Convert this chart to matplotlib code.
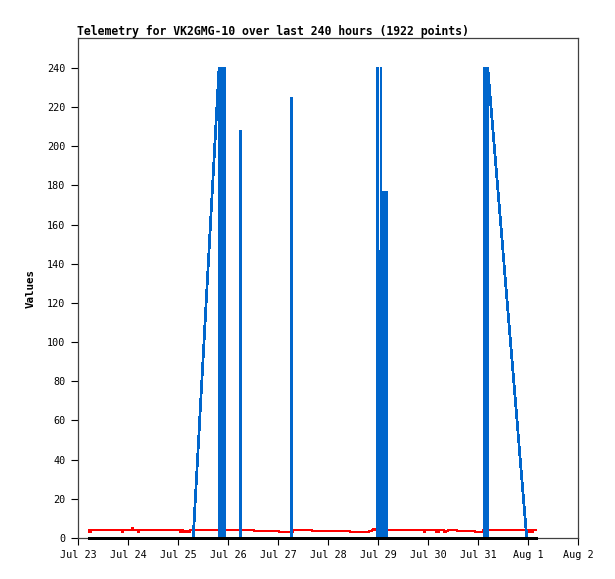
import matplotlib
matplotlib.use("Agg")
import matplotlib.pyplot as plt

# ---- data (hours since Jul 23 00:00) ----
tick_hours = [0, 24, 48, 72, 96, 120, 144, 168, 192, 216, 240]
tick_labels = ["Jul 23", "Jul 24", "Jul 25", "Jul 26", "Jul 27", "Jul 28",
               "Jul 29", "Jul 30", "Jul 31", "Aug 1", "Aug 2"]
y_ticks = [0, 20, 40, 60, 80, 100, 120, 140, 160, 180, 200, 220, 240]

red_hours = [4.8, 5.5, 6.0, 20.9, 21.4, 26.1, 26.6, 28.9, 29.4, 48.9, 49.4,
             50.3, 50.8, 51.6, 52.4, 53.4, 53.9, 84.5, 96.5, 103.1, 112.3,
             130.6, 139.7, 141.2, 141.7, 142.4, 165.9, 166.4, 171.6, 172.1,
             173.0, 173.5, 175.8, 176.8, 177.6, 181.8, 190.6, 194.4, 216.6,
             217.1, 218.0, 218.5, 220.3]
red_values = [4, 3, 4, 3, 4, 5, 4, 3, 4, 3, 4,
              3, 3.5, 3, 3.5, 3, 4, 3.5, 3, 4, 3.5,
              3, 3.5, 4, 4.5, 4, 3, 4, 3, 4,
              3, 4, 3, 3.5, 4, 3.5, 3, 4, 3,
              4, 3, 4, 4]

blue_hours = [4.8, 55.3, 67.7,
              67.9, 68.2, 68.5, 68.8, 69.1, 69.4, 69.7, 70.0, 70.3, 70.5, 70.6,
              78.05, 78.1, 78.15,
              102.55, 102.6, 102.65,
              143.85, 143.9, 143.95, 144.55, 144.6, 144.65, 145.35, 145.4, 145.45,
              145.9, 146.2, 146.5, 146.8, 147.1, 147.4, 147.7, 148.0, 148.3, 148.35,
              194.85, 194.9, 195.2, 195.5, 195.8, 196.1, 196.4, 196.7,
              215.4, 220.3]
blue_values = [0, 0, 240,
               0, 240, 0, 240, 0, 240, 0, 240, 0, 240, 0,
               0, 208, 0,
               0, 225, 0,
               0, 240, 0, 30, 147, 30, 0, 240, 0,
               177, 0, 177, 0, 177, 0, 177, 0, 177, 0,
               0, 240, 0, 240, 0, 240, 0, 240,
               0, 0]

black_hours = [4.8, 220.3]
black_values = [0, 0]

title = "Telemetry for VK2GMG-10 over last 240 hours (1922 points)"

# ---- figure ----
plt.rcParams['font.family'] = ['DejaVu Sans Mono', 'DejaVu Sans']
W, H = 615, 579
fig = plt.figure(figsize=(W / 100, H / 100), dpi=100)
L, R, T, B = 78, 578, 38, 538
ax = fig.add_axes([L / W, 1 - B / H, (R - L) / W, (B - T) / H])

ax.plot(red_hours, red_values, color="#ff0000", lw=1.4, drawstyle="steps-post",
        antialiased=False, zorder=2, solid_capstyle="butt", solid_joinstyle="bevel")
ax.plot(blue_hours, blue_values, color="#0066cc", lw=1.25, antialiased=False,
        zorder=3, solid_joinstyle="bevel", solid_capstyle="butt")
ax.plot(black_hours, black_values, color="#000000", lw=2.0, antialiased=False,
        zorder=4, clip_on=False, solid_capstyle="butt")

ax.set_xlim(0, 240)
ax.set_ylim(0, 255.3)
ax.set_xticks(tick_hours)
ax.set_xticklabels(tick_labels)
ax.set_yticks(y_ticks)
ax.tick_params(direction="out", length=5, width=0.8, labelsize=7.3,
               color="black", labelcolor="black")
ax.tick_params(axis="x", pad=4)
ax.tick_params(axis="y", pad=4)
for s in ax.spines.values():
    s.set_color("#404040")
    s.set_linewidth(0.9)

ax.set_ylabel("Values", fontsize=7.8, fontweight="bold")
ax.yaxis.set_label_coords(-0.085, 0.5)
fig.text(77 / W, 1 - 35 / H, title, fontsize=8.3, fontweight="bold",
         ha="left", va="baseline")

fig.savefig("out.png", dpi=100, facecolor="white")
